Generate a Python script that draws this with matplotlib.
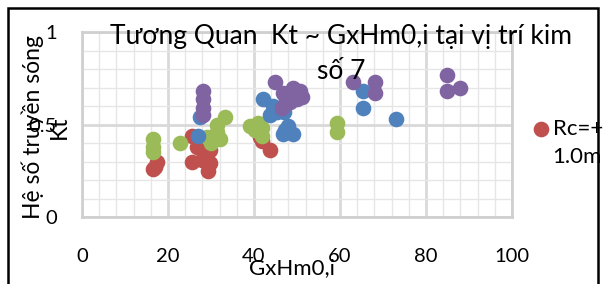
import matplotlib
matplotlib.use("Agg")
import matplotlib.pyplot as plt
from matplotlib.patches import Rectangle
from matplotlib.ticker import MultipleLocator, FuncFormatter

FONT = ["Lato", "DejaVu Sans"]
plt.rcParams["font.family"] = FONT

# du lieu doc tu hinh (x = GxHm0,i, y = Kt)
red_x = [17, 17.5, 16.5, 25.6, 26.7, 29.8, 25.6, 27.9, 29.8, 29.3, 41.4, 41.9, 43.7]
red_y = [0.27, 0.30, 0.26, 0.44, 0.38, 0.36, 0.30, 0.31, 0.29, 0.25, 0.43, 0.41, 0.36]

green_x = [16.5, 16.5, 16.5, 22.8, 33.3, 31.4, 31.0, 29.0, 32.0, 30.0, 31.5,
           39.0, 41.0, 41.9, 41.9, 40.2, 59.3, 59.3]
green_y = [0.42, 0.38, 0.35, 0.40, 0.54, 0.50, 0.44, 0.43, 0.42, 0.40, 0.46,
           0.49, 0.51, 0.48, 0.44, 0.47, 0.51, 0.46]

blue_x = [27.4, 27.0, 42.1, 44.4, 43.7, 45.3, 47.0, 47.2, 49.0, 46.7, 48.0, 65.3, 65.3, 73.0]
blue_y = [0.54, 0.44, 0.64, 0.60, 0.55, 0.57, 0.57, 0.47, 0.45, 0.45, 0.49, 0.68, 0.59, 0.53]

purple_x = [28.1, 28.1, 28.1, 28.1, 44.9, 46.7, 49.0, 50.7, 48.4, 50.0, 51.2, 46.5, 47.5,
            63.0, 68.1, 68.1, 84.9, 84.9, 87.9]
purple_y = [0.68, 0.64, 0.59, 0.55, 0.73, 0.67, 0.70, 0.68, 0.62, 0.64, 0.65, 0.59, 0.63,
            0.73, 0.73, 0.67, 0.77, 0.68, 0.70]

fig = plt.figure(figsize=(6.05, 2.84), dpi=100)
ax = fig.add_axes([82 / 605, 1 - 217 / 284, 430 / 605, 185 / 284])

ms = 105
s_red = ax.scatter(red_x, red_y, s=ms, color="#C0504D", edgecolors="#C0504D", zorder=3)
ax.scatter(green_x, green_y, s=ms, color="#9BBB59", edgecolors="#9BBB59", zorder=3)
ax.scatter(blue_x, blue_y, s=ms, color="#4F81BD", edgecolors="#4F81BD", zorder=3)
ax.scatter(purple_x, purple_y, s=ms, color="#8064A2", edgecolors="#8064A2", zorder=3)

ax.set_xlim(0, 100)
ax.set_ylim(0, 1)
ax.xaxis.set_major_locator(MultipleLocator(20))
ax.xaxis.set_minor_locator(MultipleLocator(4))
ax.yaxis.set_major_locator(MultipleLocator(0.5))
ax.yaxis.set_minor_locator(MultipleLocator(0.1))
ax.yaxis.set_major_formatter(FuncFormatter(lambda v, p: "%g" % v))
ax.grid(which="major", color="#D9D9D9", linewidth=2, zorder=0)
ax.grid(which="minor", color="#E6E6E6", linewidth=1, zorder=0)
ax.set_axisbelow(True)
for sp in ax.spines.values():
    sp.set_color("#D0D0D0")
    sp.set_linewidth(2)
ax.tick_params(which="both", length=0)
ax.tick_params(axis="x", labelsize=14.5, pad=22)
ax.tick_params(axis="y", labelsize=14.5, pad=18)

fig.text(341 / 605, 1 - 54 / 284, "Tương Quan  Kt ~ GxHm0,i tại vị trí kim\nsố 7",
         ha="center", va="center", fontsize=19, linespacing=1.5)
fig.text(46 / 605, 1 - 127 / 284, "Hệ số truyền sóng\nKt", rotation=90,
         ha="center", va="center", fontsize=16.5, linespacing=1.3)
fig.text(292 / 605, 1 - 268 / 284, "GxHm0,i", ha="center", va="center", fontsize=16)

ax.legend([s_red], ["Rc=+"], loc="center left", bbox_to_anchor=(1.022, 0.475),
          frameon=False, fontsize=16, handletextpad=0.0, handlelength=1.0,
          borderaxespad=0, markerscale=1.0)
fig.text(552 / 605, 1 - 157 / 284, "1.0m", ha="left", va="center", fontsize=16)

fig.patches.append(Rectangle((8 / 605, -0.1), 590 / 605, 1.1 - 8 / 284,
                             transform=fig.transFigure, fill=False,
                             edgecolor="black", linewidth=1.8))

fig.savefig("out.png", dpi=100)
